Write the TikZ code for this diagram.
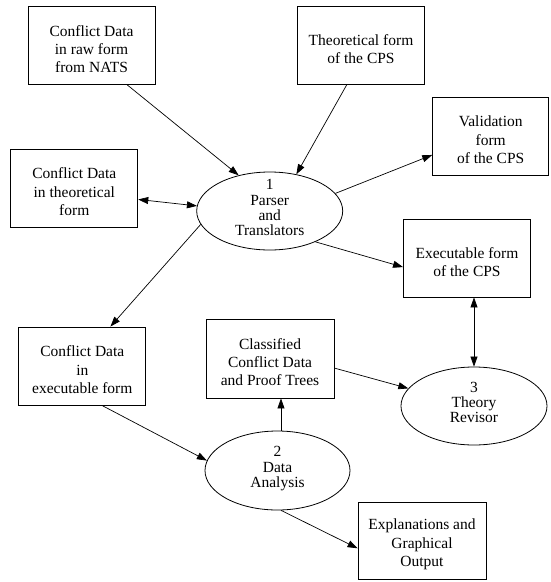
\documentclass[tikz,border=0pt]{standalone}
\usepackage{fontspec}
\setmainfont{Liberation Serif}
\usetikzlibrary{shapes.geometric,arrows.meta,calc}
\newcommand\boxdn{\rule{0pt}{18.5pt}}
\newcommand\elup{\rule[-7pt]{0pt}{7pt}}
\begin{document}
\begin{tikzpicture}[x=1pt,y=-1pt,
  box/.style={draw,line width=0.9pt,minimum width=127pt,minimum height=78pt,
    inner sep=0pt,align=center,font=\fontsize{15.5}{18.2}\selectfont},
  proc/.style={draw,ellipse,line width=0.8pt,minimum width=146pt,minimum height=78pt,
    inner xsep=0pt,inner ysep=-24pt,align=center,font=\fontsize{15.5}{15.2}\selectfont},
  arr/.style={-{Triangle[length=10pt,width=7pt]},line width=0.7pt},
  darr/.style={{Triangle[length=10pt,width=7pt]}-{Triangle[length=10pt,width=7pt]},line width=0.7pt}]
\useasboundingbox (0,0) rectangle (550,582);

\node[box] (A) at (91.5,45.5) {\boxdn Conflict Data\\in raw form\\from NATS};
\node[box] (B) at (361,45) {\boxdn Theoretical form\\of the CPS};
\node[box,minimum width=116pt] (C) at (490.7,136) {\boxdn Validation\\form\\of the CPS};
\node[box] (D) at (74.3,188) {\boxdn Conflict Data\\in theoretical\\form};
\node[box] (E) at (467,258) {\boxdn Executable form\\of the CPS};
\node[box] (F) at (82.3,366) {\boxdn Conflict Data\\in\\executable form};
\node[box,minimum width=128pt,minimum height=79pt] (G) at (270,358.5) {\boxdn Classified\\Conflict Data\\and Proof Trees};
\node[box,minimum width=128pt,minimum height=77pt] (H) at (422,540.5) {\boxdn Explanations and\\Graphical\\Output};

\node[proc] (p1) at (269.7,211) {1\\Parser\\and\\Translators\elup};
\node[proc,minimum width=145pt,minimum height=79pt] (p2) at (277.5,470.5) {2\\Data\\Analysis\elup};
\node[proc] (p3) at (474,406) {3\\Theory\\Revisor\elup};

\draw[arr] ($(A.south west)!0.78!(A.south east)$) -- (p1.131.6);
\draw[arr] ($(B.south west)!0.39!(B.south east)$) -- (p1.54.6);
\draw[arr] (p1.15.8) -- ($(C.north west)!0.74!(C.south west)$);
\draw[darr] ($(D.north east)!0.645!(D.south east)$) -- (p1.176);
\draw[arr] (p1.-34.3) -- ($(E.north west)!0.615!(E.south west)$);
\draw[arr] (p1.191) -- ($(F.north west)!0.72!(F.north east)$);
\draw[arr] ($(F.south west)!0.654!(F.south east)$) -- (p2.172.3);
\draw[arr] (p2.85) -- (p2.85 |- G.south);
\draw[arr] ($(G.north east)!0.62!(G.south east)$) -- (p3.165);
\draw[darr] (E.south -| p3.north) -- (p3.north);
\draw[arr] (p2.-85) -- ($(H.north west)!0.6!(H.south west)$);
\end{tikzpicture}
\end{document}
